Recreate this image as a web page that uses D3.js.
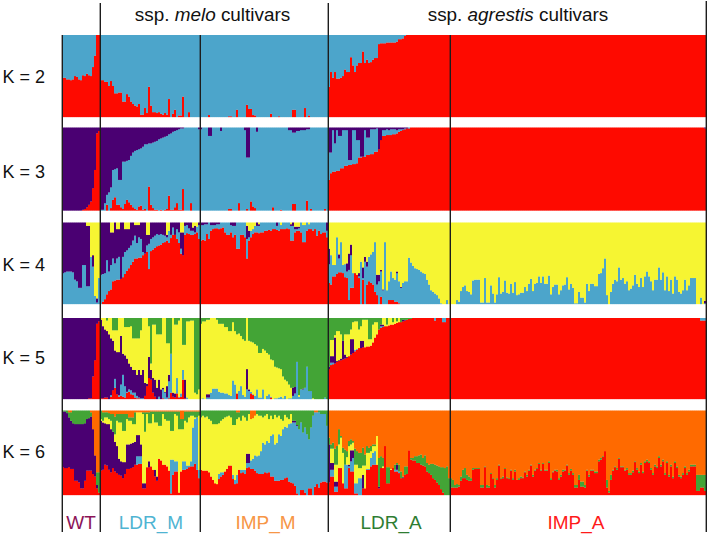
<!DOCTYPE html>
<html><head><meta charset="utf-8">
<script src="https://cdn.jsdelivr.net/npm/d3@7"></script>
<style>html,body{margin:0;padding:0;background:#fff}svg{display:block}text{font-family:"Liberation Sans",Arial,sans-serif}</style>
</head><body><svg id="c" width="709" height="535"></svg>
<script>
// Group names and sizes (individuals per group)
const groups = ["WT","LDR_M","IMP_M","LDR_A","IMP_A"];
const groupSizes = [19,50,64,61,128];
const kLabels = ["K = 2","K = 3","K = 4","K = 5","K = 6"];

// Cumulative upper edge (% of panel) of each layer, per group. [v,n] = v repeated n times.
const k2Red = [
 [48,48,46,46,45,46,50,49,46,45,51,50,53,51,50,61,75,100,100],
 [45,45,43,43,38,44,38,29,29,30,30,19,19,28,25,19,16,14,13,16,3,3,11,5,37,14,6,6,5,6,4,3,5,3,22,0,4,9,0,2,2,25,0,0,6,[0,5]],
 [[0,4],2.5,[0,9],1,1,[0,2],9,[0,4],15,10,10,2.5,2,[0,7],4,[0,3],1,[0,6],9,9,[0,4],11,0,2,[0,9]],
 [37,55,48,55,47,47,48,50,58,55,55,73,63,55,63,66,66,80,66,70,66,67,70,72,72,89,90,90,90,91,91,91,91,91,92,95,95,96,99,[100,22]],
 [[100,128]]
];
const k3Red = [
 [[0,10],1,2,4,7,11,27,49,93,96],
 [0,0,0,7,0,3,13,16,7,7,4,2,8,13,10,7,4,2,1,5,6,1,2,0,29,7,3,1,1,0,1,0,1,2,18,1,1,4,9,1,1,26,0,0,0,9,0,0,0,0],
 [[0,14],2,2,[0,3],9,[0,3],2,0,11,5,3,[0,8],4,[0,3],1,[0,5],8,8,[0,5],12,0,2,[0,6],2,0],
 [37,45,47,47,48,48,51,51,54,54,55,55,56,56,57,64,64,65,65,67,67,68,68,71,71,74,85,90,90,91,91,91,92,92,93,95,96,97,98,99,99,[100,20]],
 [[100,127],99]
];
const k3Blue = [
 [[0,19]],
 [1,1,9,19,22,28,49,50,51,37,37,59,59,60,61,66,70,72,73,74,75,77,80,80,81,81,82,83,84,86,87,88,89,90,92,93,95,96,97,98,99,99,[100,7],98],
 [98,[100,3],90,90,[100,4],96,[100,11],97,64,64,[100,3],95,[100,15],97,97,94,94,96,96,97,97,97,98,98,[100,9]],
 [70,70,97,81,97,90,90,97,97,97,61,61,97,97,85,85,65,65,97,88,88,98,98,98,99,74,85,97,97,98,97,98,98,98,97,98,98,98,99,99,[100,21]],
 [[100,127],99]
];
const k4Red = [
 [[0,19]],
 [0,3,6,12,16,18,28,29,30,30,31,33,37,41,44,48,52,56,56,57,57,60,62,64,43,65,67,69,71,72,73,75,76,78,75,81,85,85,80,75,62,60,85,87,86,85,85,86,88,80],
 [78,79,78,86,80,90,92,93,93,92,93,94,88,85,85,88,82,85,68,68,85,85,82,56,78,82,86,88,88,87,88,88,90,90,91,90,92,92,91,90,92,92,92,93,92,78,78,88,90,90,88,76,76,90,92,92,90,92,84,90,86,88,88,82],
 [26,24,34,34,37,39,39,38,33,32,5,20,20,38,36,32,0,30,0,24,28,26,24,15,11,0,9,0,0,0,5,5,5,3,3,1,[0,25]],
 [[0,128]]
];
const k4Blue = [
 [38,39,40,40,40,39,30,28,20,20,48,48,22,22,58,46,10,2,32],
 [36,37,38,54,40,48,56,50,56,58,30,58,64,66,69,72,78,84,75,82,80,64,60,72,74,80,82,84,86,85,86,85,84,82,90,85,94,84,92,88,68,60,96,97,93,90,90,88,95,97],
 [97,97,98,98,100,97,97,97,98,98,100,100,100,100,100,97,96,96,100,100,100,100,100,80,82,90,92,96,96,96,[100,8],96,100,97,100,100,100,100,96,96,92,92,93,100,97,97,100,98,[100,8],90],
 [49,60,48,48,82,56,76,48,49,40,42,60,38,38,34,34,52,32,52,46,58,61,64,76,24,28,40,17,76,17,28,40,32,30,38,28,20,26,28,28,57,51,47,44,43,42,40,38,37,30,24,17,15,13,11,7,1,0,0,5,0],
 [0,0,0,5,3,16,21,23,16,15,12,29,30,30,30,2,2,32,2,2,23,13,2,12,33,13,15,29,14,13,25,14,27,11,12,14,14,21,16,25,31,16,25,26,34,26,34,25,25,35,12,21,24,24,12,17,23,24,33,18,25,20,1,1,15,8,8,2,25,16,25,25,22,22,37,38,44,56,11,0,15,25,30,28,45,30,32,25,28,17,19,23,36,25,21,32,21,34,40,34,28,17,30,30,45,30,39,17,34,16,30,13,34,30,15,13,17,30,17,23,32,32,32,0,0,8,0,1]
];
const k4Purple = [
 [[100,12],96,96,58,60,10,7,32],
 [100,100,100,100,100,88,88,100,92,92,100,100,92,92,92,100,100,97,97,97,100,100,100,85,85,[100,8],85,85,[100,5],88,88,[100,4],94,96,93,100,100],
 [[100,23],96,90,90,92,96,100,98,[100,10],97,[100,4],98,100,95,95,95,100,97,97,100,98,[100,9]],
 [68,60,48,48,82,61,76,48,49,50,62,73,38,38,34,38,52,45,58,52,58,61,64,76,36,36,42,18,76,17,28,40,32,30,40,28,21,[0,24]],
 [[0,127],4]
];
const k5Red = [
 [[0,13],1,1,28,48,93,96],
 [1,1,2,2,0,3,11,14,6,3,4,3,2,8,9,6,5,2,1,1,0,0,4,16,26,24,8,3,0,0,0,1,0,0,1,8,3,2,7,2,3,24,1,[0,7]],
 [[0,18],7,[0,6],7,5,[0,8],2,[0,28]],
 [37,42,43,44,46,47,48,49,50,51,53,55,57,59,61,63,63,64,64,65,65,66,70,76,80,86,88,89,90,90,91,92,92,93,94,95,95,96,97,98,99,99,[100,11],97,[100,3],95,95,[100,2]],
 [[100,125],97,97,97]
];
const k5Blue = [
 [[0,19]],
 [1,1,2,2,0,5,11,25,6,5,18,30,16,9,12,11,8,8,4,2,1,1,4,16,26,24,8,3,0,3,0,12,8,2,22,56,3,2,26,3,7,36,1,2,[0,6]],
 [0,1,0,2,2,8,13,13,13,9,8,8,7,7,5,4,23,18,6,10,16,5,3,12,10,9,6,4,12,2,2,12,0,4,6,3,0,1,1,2,3,1,4,0,1,1,4,7,46,3,12,12,14,40,10,10,[0,6],2,0],
 [0,45,45,[0,10],61,62,[0,11],90,90,[0,14],[100,19]],
 [[100,128]]
];
const k5Purple = [
 [[100,19]],
 [98,90,86,84,80,75,72,60,58,58,78,56,54,50,44,40,36,36,30,36,30,36,20,19,52,36,26,24,14,24,12,14,9,16,30,24,8,7,15,3,7,11,24,[0,7]],
 [0,0,0,6,6,[0,18],37,12,[0,21],14,15,0,0,0,13,13,[0,11]],
 [40,53,53,76,47,48,50,72,55,52,53,74,74,60,61,63,72,72,[0,8],92,92,[0,9],98,98,98,[0,21]],
 [[0,128]]
];
const k5Yellow = [
 [[0,19]],
 [100,100,100,97,100,100,85,85,85,100,100,100,89,89,89,90,75,75,75,75,85,100,100,100,90,44,92,92,80,80,80,100,100,69,69,56,100,92,92,97,100,67,67,96,96,97,97,8,6,12],
 [93,96,96,98,98,100,100,100,98,93,93,93,89,89,84,84,95,84,80,81,78,74,72,100,72,71,70,68,66,57,57,62,60,57,55,49,48,40,39,38,37,28,24,22,18,14,12,15,15,5,4,13,13,40,10,10,1,[0,7]],
 [40,73,73,79,84,84,80,72,80,80,80,86,95,96,96,86,90,98,98,98,74,74,92,95,95,86,92,100,100,92,100,100,95,100,96,100,[0,25]],
 [[0,128]]
];
const k6Red = [
 [33,32,32,33,31,31,17,17,15,8,8,17,29,29,29,25,22,8,3],
 [29,30,36,35,30,27,32,28,26,24,23,20,25,31,31,32,33,36,36,37,37,8,8,33,33,34,30,22,17,43,41,36,36,34,29,2,24,28,28,3,28,30,30,31,33,34,34,37,30,20],
 [30,29,29,29,27,22,18,14,13,19,22,24,28,31,35,35,19,13,14,30,26,27,25,32,33,31,31,29,26,25,25,25,27,26,27,22,22,17,17,17,18,18,20,21,16,15,14,11,2,0,6,6,3,0,8,8,0,10,13,9,15,16,16,15],
 [15,22,22,4,4,32,32,14,8,8,32,28,28,2,2,0,0,8,8,30,30,34,36,36,36,8,32,32,58,14,14,30,32,28,28,26,20,20,24,25,53,42,41,41,38,38,36,35,34,28,26,24,20,18,15,12,7,3,0,0,0],
 [9,9,9,9,10,17,20,20,18,17,17,30,31,31,31,9,9,33,9,9,25,19,9,18,35,19,20,31,20,19,29,18,28,18,18,20,20,27,22,29,35,22,29,31,37,29,37,29,29,38,18,27,29,28,18,22,28,29,35,24,29,24,9,9,18,10,10,9,29,22,29,29,26,26,40,42,45,52,9,3,18,29,33,30,43,33,33,29,30,24,24,27,39,30,26,36,26,38,40,38,30,24,34,32,44,34,40,24,38,22,34,20,38,32,22,20,24,32,24,28,34,34,34,5,5,9,9,5]
];
const k6Blue = [
 [[0,19]],
 [[0,18],46,46,46,8,8,[0,12],42,42,40,40,0,0,40,40,35,35,40,80,90,92,30],
 [[0,9],25,27,27,28,31,0,0,24,18,24,30,30,30,30,38,38,41,43,47,46,47,52,62,60,64,62,70,72,60,62,72,70,78,81,80,84,85,86,86,82,78,86,74,80,72,66,80,94,98,98,98,96,96,96,82],
 [15,30,30,10,10,32,32,14,36,36,34,40,44,14,14,20,20,8,8,31,31,44,50,52,36,8,32,32,58,14,14,30,32,30,30,28,[0,25]],
 [[0,128]]
];
const k6Purple = [
 [99,99,97,92,88,85,84,84,84,84,84,85,90,91,93,78,47,12,3],
 [88,86,85,84,84,78,75,63,58,43,40,39,39,60,60,61,62,63,71,71,60,14,14,0,40,[0,2],30,22,[0,21]],
 [[0,23],49,49,[0,21],88,88,83,[0,16]],
 [60,38,38,16,16,32,32,14,36,36,36,53,53,14,14,20,20,24,[0,7],10,[0,8],36,[0,2],21,[0,23]],
 [[0,128]]
];
const k6Yellow = [
 [[0,19]],
 [90,88,92,92,90,88,75,72,88,86,86,76,76,90,88,88,84,84,98,98,98,96,75,96,85,85,96,86,86,82,82,96,90,88,88,76,76,96,94,78,78,78,88,86,92,94,94,92,92,94],
 [92,94,92,93,90,88,84,84,84,85,88,90,92,93,94,92,83,83,90,92,88,94,92,88,96,90,91,94,96,94,94,92,94,96,90,94,90,95,92,94,90,88,95,92,90,96,88,86,[0,16]],
 [60,55,55,36,36,60,68,50,36,45,58,60,62,36,36,32,32,35,35,50,50,52,58,58,70,8,32,34,58,14,14,31,[0,29]],
 [[0,128]]
];
const k6Green = [
 [100,100,100,98,98,100,[100,8],98,78,47,27,27],
 [100,98,98,98,97,96,96,93,96,96,96,96,96,96,92,92,92,98,98,98,98,98,98,98,98,[99,15],90,90,[99,8]],
 [[100,18],98,98,[100,5],90,90,92,[100,29],96,96,[100,7]],
 [68,60,62,55,58,78,70,56,54,52,64,66,64,55,52,50,50,56,48,58,56,58,60,60,70,44,46,44,58,33,33,30,32,36,38,36,28,22,34,34,53,44,44,46,46,47,48,44,47,38,36,37,37,36,35,34,33,33,32,34,20],
 [20,18,12,13,12,22,30,32,24,22,20,32,32,32,32,12,12,34,12,11,26,20,12,20,36,20,22,32,21,20,30,20,30,18,20,22,21,28,24,30,36,24,30,32,38,30,38,30,30,40,20,28,30,30,20,24,30,30,36,26,31,26,12,12,24,16,16,12,30,24,30,30,28,28,42,44,46,52,18,5,24,30,34,32,44,34,34,30,32,26,26,29,40,32,28,38,28,40,42,40,32,26,36,34,46,36,42,26,40,24,36,22,40,34,24,22,26,34,26,30,36,36,36,24,24,24,24,24]
];

// Cluster colours
const RED="#fe0a00", BLUE="#4ca5cb", PURPLE="#4a0072", YELLOW="#f6f532", GREEN="#43a436", ORANGE="#ff6a00";

const panels = [
 {layers:[[k2Red,RED]], top:BLUE},
 {layers:[[k3Red,RED],[k3Blue,BLUE]], top:PURPLE},
 {layers:[[k4Red,RED],[k4Blue,BLUE],[k4Purple,PURPLE]], top:YELLOW},
 {layers:[[k5Red,RED],[k5Blue,BLUE],[k5Purple,PURPLE],[k5Yellow,YELLOW]], top:GREEN},
 {layers:[[k6Red,RED],[k6Blue,BLUE],[k6Purple,PURPLE],[k6Yellow,YELLOW],[k6Green,GREEN]], top:ORANGE}
];
const panelBox = [[35,117],[127.5,210.5],[222.5,304],[318,399],[410.5,495]];
const kLabelY = [82.5,177.5,270.5,363.5,457.5];

// expand run-lengths for one group and fit it to the group's size
function expand(list,n){
  const out=[];
  list.forEach(v=>{ if(Array.isArray(v)){for(let i=0;i<v[1];i++)out.push(v[0]);} else out.push(v); });
  while(out.length<n) out.push(out[out.length-1]);
  return out.slice(0,n);
}
function flat(g){ return g.flatMap((l,i)=>expand(l,groupSizes[i])); }

const total = d3.sum(groupSizes);
const x = d3.scaleBand().domain(d3.range(total)).range([62,706]);
const svg = d3.select("#c");
const bars = svg.append("g").style("filter","blur(0.4px)");

panels.forEach((p,pi)=>{
  const y = d3.scaleLinear().domain([0,100]).range([panelBox[pi][1],panelBox[pi][0]]);
  const layers = p.layers.map(([g,c])=>({vals:flat(g),c}));
  const segs=[];
  d3.range(total).forEach(i=>{
    let prev=0;
    layers.forEach(l=>{
      const v=Math.min(100,l.vals[i]);
      if(v>prev){segs.push({i,a:prev,b:v,c:l.c});prev=v;}
    });
    if(prev<100) segs.push({i,a:prev,b:100,c:p.top});
  });
  bars.append("g").selectAll("rect").data(segs).join("rect")
    .attr("x",d=>x(d.i)).attr("width",x.bandwidth()+0.15)
    .attr("y",d=>y(d.b)).attr("height",d=>y(d.a)-y(d.b)+0.15)
    .attr("fill",d=>d.c);
});

// group separators
const groupEnds = d3.cumsum(groupSizes);
const lineTops = [35,3,35,3,35,1];
const lineX = [0,...groupEnds].map(n=> n===0? x(0) : (n===total? x(total-1)+x.bandwidth() : x(n)));
svg.append("g").selectAll("line").data(lineX).join("line")
  .attr("x1",d=>d+0.3).attr("x2",d=>d+0.3)
  .attr("y1",(d,i)=>lineTops[i]).attr("y2",532)
  .attr("stroke","#1d1d1d").attr("stroke-width",1.4);

// K labels
svg.append("g").selectAll("text").data(kLabels).join("text")
  .attr("x",2.5).attr("y",(d,i)=>kLabelY[i]).attr("font-size",18).attr("fill","#111").text(d=>d);

// Headers
function header(cx,name){
  const t=svg.append("text").attr("x",cx).attr("y",21).attr("text-anchor","middle").attr("font-size",18.9).attr("fill","#111");
  t.append("tspan").text("ssp. ");
  t.append("tspan").attr("font-style","italic").text(name);
  t.append("tspan").text(" cultivars");
}
header(212.5,"melo");
header(518,"agrestis");

// Group labels
const groupColors=["#8c1458","#4fb4d2","#f79646","#2e7d32","#ff1a1a"];
const labelX=[81,151,265.5,391,576];
svg.append("g").selectAll("text.g").data(groups).join("text")
  .attr("x",(d,i)=>labelX[i]).attr("y",528.5).attr("text-anchor","middle")
  .attr("font-size",19).attr("fill",(d,i)=>groupColors[i]).text(d=>d);
</script></body></html>
